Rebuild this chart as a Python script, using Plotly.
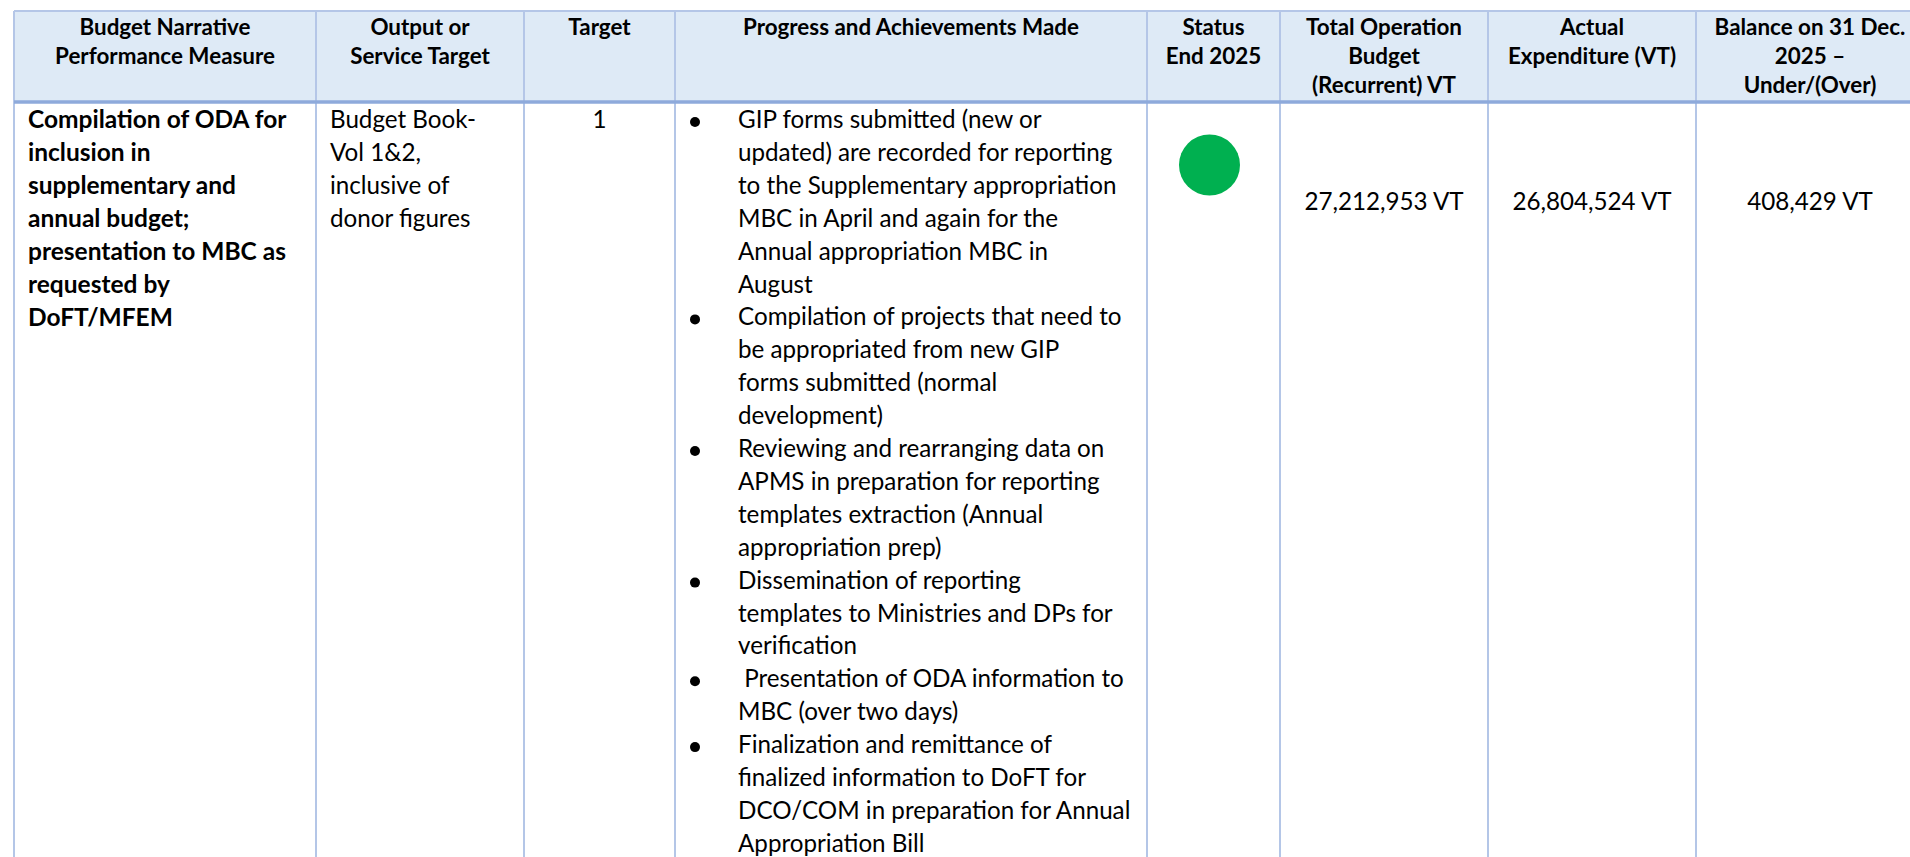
import plotly.graph_objects as go

# ---- table content ----
header_lines = [
    ["Budget Narrative", "Performance Measure"],
    ["Output or", "Service Target"],
    ["Target"],
    ["Progress and Achievements Made"],
    ["Status", "End 2025"],
    ["Total Operation", "Budget", "(Recurrent) VT"],
    ["Actual", "Expenditure (VT)"],
    ["Balance on 31 Dec.", "2025 \u2013", "Under/(Over)"],
]
measure_lines = ["Compilation of ODA for", "inclusion in", "supplementary and", "annual budget;",
                 "presentation to MBC as", "requested by", "DoFT/MFEM"]
output_lines = ["Budget Book-", "Vol 1&2,", "inclusive of", "donor figures"]
target_value = "1"
progress_items = [
    ["GIP forms submitted (new or", "updated) are recorded for reporting", "to the Supplementary appropriation",
     "MBC in April and again for the", "Annual appropriation MBC in", "August"],
    ["Compilation of projects that need to", "be appropriated from new GIP", "forms submitted (normal", "development)"],
    ["Reviewing and rearranging data on", "APMS in preparation for reporting", "templates extraction (Annual",
     "appropriation prep)"],
    ["Dissemination of reporting", "templates to Ministries and DPs for", "verification"],
    ["\u00a0Presentation of ODA information to", "MBC (over two days)"],
    ["Finalization and remittance of", "finalized information to DoFT for", "DCO/COM in preparation for Annual",
     "Appropriation Bill"],
]
budget_values = ["27,212,953 VT", "26,804,524 VT", "408,429 VT"]

# ---- page geometry (pixels) ----
W, H = 1910, 857
col_edges = [14, 316, 524, 675, 1147, 1280, 1488, 1696]
table_right = 1924
top_y, head_bottom = 11, 102
head_first, head_step = 29.5, 29
body_first, body_step = 122, 32.9
amount_y = 204
pad = 9
bullet_x, progress_x = 695, 738
FONT = "Lato"
HEAD_SIZE, BODY_SIZE = 22.4, 24.2
col_right = col_edges[1:] + [table_right]
centers = [(a + b) / 2 for a, b in zip(col_edges, col_right)]

fig = go.Figure()

# header band, borders
fig.add_shape(type="rect", x0=col_edges[0], x1=W, y0=top_y, y1=head_bottom, fillcolor="#DEEAF6", line_width=0, layer="below")
for x in col_edges:
    fig.add_shape(type="line", x0=x, x1=x, y0=top_y, y1=H, line=dict(color="#B4C6E7", width=2))
fig.add_shape(type="line", x0=col_edges[0], x1=W, y0=top_y, y1=top_y, line=dict(color="#B4C6E7", width=2))
fig.add_shape(type="line", x0=col_edges[0], x1=W, y0=head_bottom, y1=head_bottom, line=dict(color="#8EAADB", width=3.5))


def text_trace(xs, ys, texts, size, bold=False, pos="middle center"):
    fig.add_trace(go.Scatter(x=xs, y=ys, text=texts, mode="text", textposition=pos, cliponaxis=False,
                             textfont=dict(family=FONT, size=size, color="#000000", weight="bold" if bold else "normal"),
                             hoverinfo="skip", showlegend=False))


# header text
for cx, lines in zip(centers, header_lines):
    text_trace([cx] * len(lines), [head_first + i * head_step for i in range(len(lines))], lines, HEAD_SIZE, bold=True)

# body text
text_trace([col_edges[0] + pad + 5] * len(measure_lines), [body_first + i * body_step for i in range(len(measure_lines))],
           measure_lines, BODY_SIZE + 0.3, bold=True, pos="middle right")
text_trace([col_edges[1] + pad + 5] * len(output_lines), [body_first + i * body_step for i in range(len(output_lines))],
           output_lines, BODY_SIZE, pos="middle right")
text_trace([centers[2]], [body_first], [target_value], BODY_SIZE)

# progress list
row = 0
bx, by, px, py, pt = [], [], [], [], []
for item in progress_items:
    by.append(body_first + row * body_step)
    bx.append(bullet_x)
    for line in item:
        px.append(progress_x)
        py.append(body_first + row * body_step)
        pt.append(line)
        row += 1
text_trace(px, py, pt, BODY_SIZE, pos="middle right")
fig.add_trace(go.Scatter(x=bx, y=by, mode="markers", marker=dict(color="#000000", size=10), hoverinfo="skip", showlegend=False))

# status dot
fig.add_trace(go.Scatter(x=[1209.5], y=[165], mode="markers", marker=dict(color="#00B050", size=61), hoverinfo="skip", showlegend=False))

# amounts
text_trace(centers[5:], [amount_y] * 3, budget_values, BODY_SIZE)

fig.update_layout(width=W, height=H, margin=dict(l=0, r=0, t=0, b=0), paper_bgcolor="#FFFFFF", plot_bgcolor="#FFFFFF",
                  xaxis=dict(range=[0, W], visible=False, fixedrange=True),
                  yaxis=dict(range=[H, 0], visible=False, fixedrange=True), showlegend=False)
fig.write_html("out.html", config={"displayModeBar": False},
               post_script="document.body.style.margin='0';document.body.style.overflow='hidden';")
